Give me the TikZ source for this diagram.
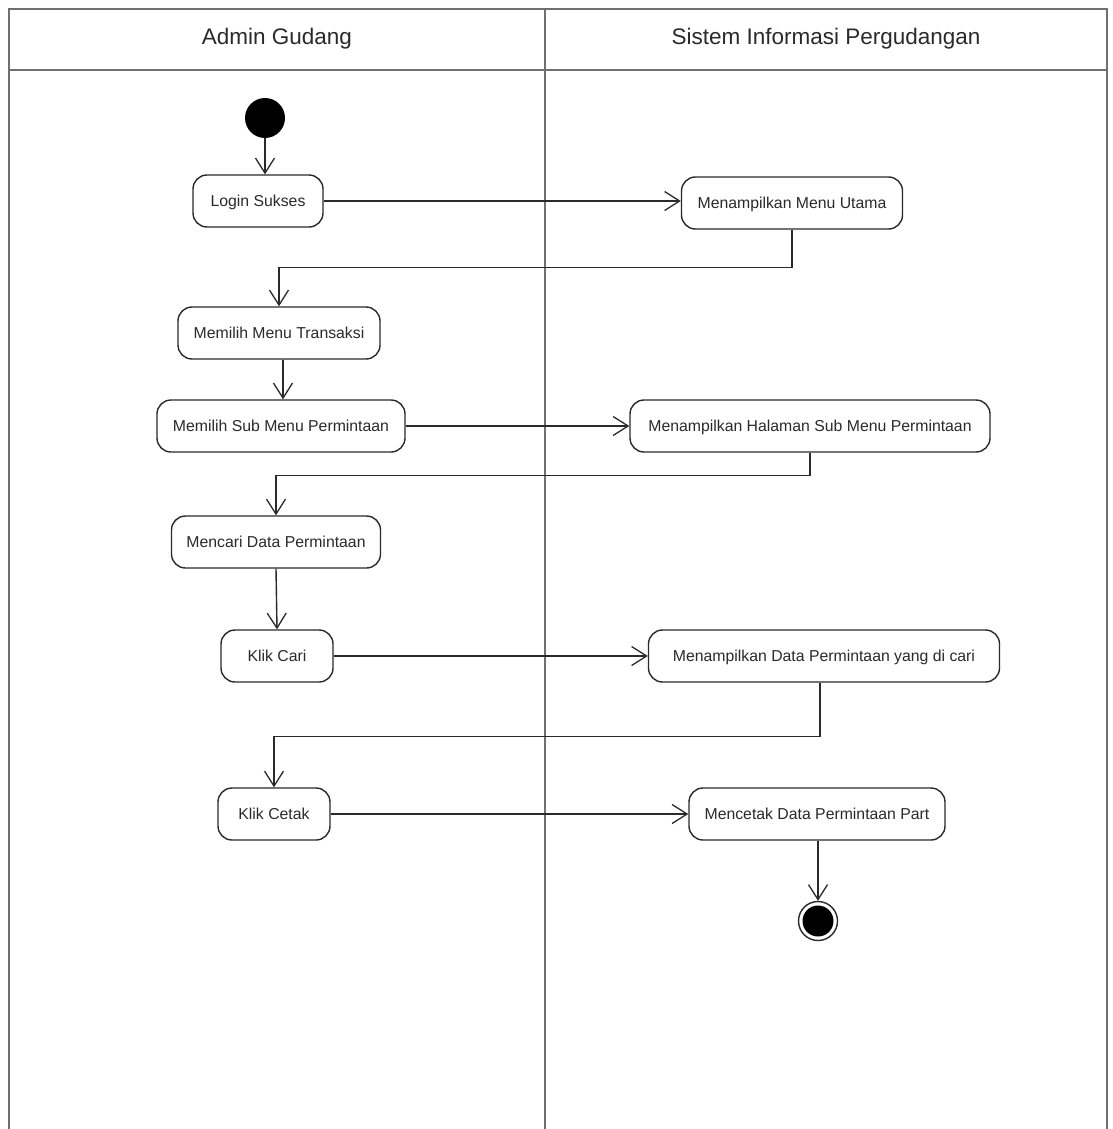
\documentclass[tikz,border=0pt]{standalone}
\usepackage{fontspec}
\setmainfont{Liberation Sans}
\usetikzlibrary{arrows.meta}
\definecolor{ink}{HTML}{2A2A2A}
\definecolor{lane}{HTML}{707070}
\begin{document}
\begin{tikzpicture}[x=1pt,y=-1pt,
  act/.style={draw=ink, line width=1.4pt, rounded corners=14pt, minimum height=52pt,
    inner sep=0pt, text height=11.5pt, text depth=0pt,
    font=\fontsize{15.8}{18}\selectfont, text=ink},
  flow/.style={draw=ink, line width=1.4pt, -{Straight Barb[length=15pt,width=19pt,line width=1.3pt]}},
  lanes/.style={draw=lane, line width=2pt},
  head/.style={font=\fontsize{22.5}{26}\selectfont, text=ink}]
\useasboundingbox (0,0) rectangle (1112,1129);
\fill[white] (0,0) rectangle (1112,1129);

% swimlane frame
\draw[lanes] (9,1129) -- (9,9) -- (1107,9) -- (1107,1129);
\draw[lanes] (9,70) -- (1107,70);
\draw[lanes] (545,9) -- (545,1129);
\node[head] (h1) at (277,39) {Admin Gudang};
\node[head] (h2) at (826,39) {Sistem Informasi Pergudangan};

% activities
\node[circle, fill=black, minimum size=40pt, inner sep=0pt] (start) at (265,118) {};
\node[act, minimum width=130pt] (login) at (258,201) {Login Sukses};
\node[act, minimum width=221pt] (mmu) at (792,203) {Menampilkan Menu Utama};
\node[act, minimum width=202pt] (mmt) at (279,333) {Memilih Menu Transaksi};
\node[act, minimum width=248pt] (msm) at (281,426) {Memilih Sub Menu Permintaan};
\node[act, minimum width=360pt] (mhs) at (810,426) {Menampilkan Halaman Sub Menu Permintaan};
\node[act, minimum width=209pt] (mcd) at (276,542) {Mencari Data Permintaan};
\node[act, minimum width=112pt] (kcari) at (277,656) {Klik Cari};
\node[act, minimum width=351pt] (mdp) at (824,656) {Menampilkan Data Permintaan yang di cari};
\node[act, minimum width=112pt] (kcetak) at (274,814) {Klik Cetak};
\node[act, minimum width=256pt] (mct) at (817,814) {Mencetak Data Permintaan Part};
\node[circle, draw=ink, line width=1.4pt, fill=white, minimum size=39pt, inner sep=0pt] (end) at (818,921) {};
\node[circle, fill=black, minimum size=31pt, inner sep=0pt] (endcore) at (end) {};

% control flow
\draw[flow] (start) -- (start |- login.north);
\draw[flow] (login.east) -- (login.east -| mmu.west);
\draw[flow] (mmu.south) -- ++(0,38) -| (mmt.north);
\draw[flow] (mmt.south -| 283,0) -- (msm.north -| 283,0);
\draw[flow] (msm.east) -- (mhs.west);
\draw[flow] (mhs.south) -- ++(0,23) -| (mcd.north);
\draw[flow] (mcd.south) -- (kcari.north);
\draw[flow] (kcari.east) -- (mdp.west);
\draw[flow] (mdp.south -| 820,0) -- ++(0,54) -| (kcetak.north);
\draw[flow] (kcetak.east) -- (mct.west);
\draw[flow] (mct.south -| end.north) -- (end.north);
\end{tikzpicture}
\end{document}
